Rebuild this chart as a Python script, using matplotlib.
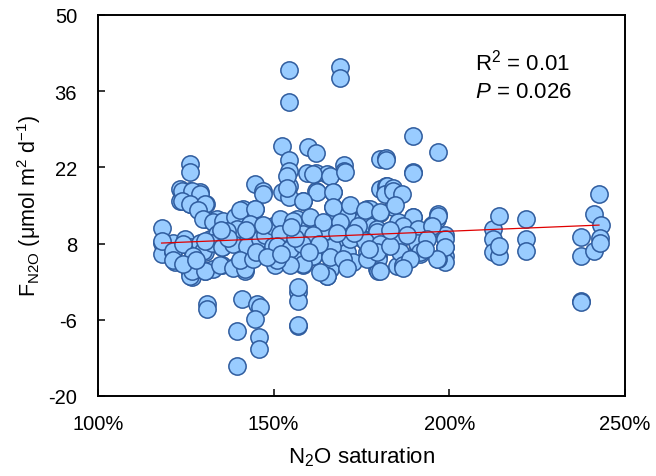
import matplotlib
matplotlib.use("Agg")
import matplotlib.pyplot as plt
import numpy as np

plt.rcParams['font.family'] = ['Liberation Sans', 'DejaVu Sans']
plt.rcParams['mathtext.fontset'] = 'custom'
plt.rcParams['mathtext.rm'] = 'Liberation Sans'
plt.rcParams['mathtext.it'] = 'Liberation Sans:italic'
plt.rcParams['axes.unicode_minus'] = False

# N2O saturation (%) and F_N2O (umol m-2 d-1)
saturation = [
    154.4, 154.4, 168.9, 168.9, 152.5, 159.9, 162.0, 154.4, 126.2, 126.2,
    170.0, 170.0, 180.3, 180.3, 144.7, 147.1, 154.4, 159.4, 162.0, 165.1,
    154.4, 123.3, 126.2, 129.0, 162.0, 167.0,
    123.3, 126.2, 130.7, 152.3, 158.4, 154.5, 167.0, 171.3, 176.5,
    144.7, 139.5, 141.4, 130.7, 133.8, 118.1, 139.5, 136.6, 144.7, 151.8,
    156.5, 159.4, 162.2, 167.0, 170.8, 175.5, 174.1, 178.4,
    118.1, 118.1, 121.4, 121.4, 121.9, 124.8, 126.2, 126.2, 126.7, 130.5,
    130.5, 131.9, 129.0, 135.2, 135.2, 132.8, 139.5, 142.3, 141.8, 141.8,
    139.5, 143.3, 147.1, 149.0, 151.8, 150.9, 153.7, 156.1, 158.4, 161.3,
    158.4, 161.3, 164.1, 167.0, 166.0, 165.1, 168.9, 170.8, 172.7, 175.5,
    176.5, 179.3, 179.8,
    130.9, 130.9, 141.1, 145.2, 146.1, 144.7, 139.7, 145.9, 145.9, 139.7,
    156.8, 156.8, 156.8, 156.8,
    189.6, 196.9, 182.0, 182.0, 189.6, 182.0, 182.0, 184.5, 184.1, 180.3,
    177.4, 189.8, 186.9, 196.9, 195.0, 179.3, 179.3, 178.4, 179.8, 179.8,
    186.9, 186.9, 190.7, 191.2, 191.7, 198.8, 198.8, 198.8, 198.8, 196.9,
    196.4, 212.5, 214.2, 212.5, 212.5, 214.2, 214.2, 221.8, 221.8, 221.8,
    237.5, 237.5, 237.5, 237.5, 241.2, 242.7, 243.1, 242.9, 241.2, 242.9,
    123.8, 126.7, 129.0, 123.8, 126.2, 130.5, 147.1, 128.6, 130.0, 132.8,
    135.7, 139.0, 140.4, 144.7, 143.3, 139.5, 136.6, 133.8, 118.1, 121.4,
    121.4, 124.3, 130.0, 132.4, 130.5, 135.2, 138.5, 142.3, 126.2, 126.7,
    130.5, 134.7, 138.5, 141.8, 140.4, 144.2, 146.1, 147.5, 149.9, 149.9,
    150.4, 127.1, 124.3,
    153.7, 161.3, 166.0, 170.3, 153.7, 162.2, 167.0, 158.4, 182.2, 181.7,
    167.0, 171.7, 176.0, 180.3, 151.8, 155.6, 160.3, 164.1, 168.9, 174.1,
    179.3, 151.8, 158.4, 161.3, 166.5, 171.7, 176.0, 180.3, 150.9, 154.6,
    158.0, 161.3, 166.0, 169.8, 176.5, 179.3, 158.4, 154.6, 150.9, 165.1,
    163.2, 180.3, 185.0, 157.0, 185.5, 185.5,
    189.8, 184.1, 184.1, 186.4, 184.5, 189.8, 196.9, 186.9, 191.2, 195.0,
    198.8, 198.8, 196.4, 186.0, 186.0, 186.9, 190.7, 191.7, 193.6, 188.8,
    186.9,
    145.0, 148.0, 152.0, 156.0, 163.0, 168.0, 173.0, 177.0, 183.0, 183.0,
    188.0, 193.0, 147.0, 142.0, 137.0, 160.0, 171.0, 135.0, 128.0, 155.0,
]
flux = [
    39.9, 34.0, 40.4, 38.5, 25.9, 25.8, 24.6, 23.4, 22.6, 21.1,
    22.4, 21.4, 23.5, 18.0, 19.0, 17.7, 21.4, 21.0, 21.0, 20.8,
    18.6, 18.0, 17.7, 17.4, 17.7, 17.4,
    15.9, 15.3, 15.3, 17.4, 15.9, 16.5, 14.7, 14.7, 14.4,
    14.4, 12.8, 14.4, 12.5, 12.5, 10.8, 10.7, 11.6, 11.6, 11.3,
    12.5, 11.6, 10.7, 12.5, 13.1, 12.5, 11.0, 11.3,
    8.2, 6.1, 8.2, 6.4, 4.6, 8.9, 7.3, 2.7, 1.8, 6.4,
    3.0, 8.9, 8.2, 7.3, 4.0, 3.3, 8.9, 8.2, 4.9, 3.0,
    4.0, 7.0, 9.2, 8.2, 8.0, 5.2, 4.6, 5.5, 4.0, 5.8,
    9.5, 8.2, 10.1, 7.3, 3.3, 2.1, 8.9, 6.4, 4.6, 8.9,
    6.4, 3.3, 5.8,
    -3.1, -4.0, -2.2, -3.1, -3.7, -5.8, -8.1, -9.2, -11.4, -14.4,
    -0.9, -2.5, -7.2, -7.0,
    27.7, 24.8, 23.7, 23.4, 21.2, 18.5, 17.9, 17.1, 14.7, 13.7,
    14.4, 12.8, 11.3, 13.4, 11.4, 10.7, 9.5, 7.6, 5.2, 3.0,
    5.8, 4.0, 10.1, 7.6, 6.1, 9.5, 7.3, 5.8, 4.6, 5.2,
    12.5, 10.7, 13.0, 8.9, 6.4, 5.8, 7.6, 12.6, 8.9, 6.7,
    9.2, 5.8, -2.5, -2.8, 13.4, 17.1, 11.4, 9.0, 6.7, 8.2,
    17.7, 17.7, 17.1, 15.9, 15.3, 15.3, 17.1, 14.1, 12.5, 11.9,
    12.2, 12.8, 14.1, 14.4, 11.6, 10.7, 10.4, 9.8, 8.5, 6.7,
    4.9, 7.9, 6.7, 8.2, 8.5, 7.3, 7.9, 7.6, 2.1, 3.0,
    3.0, 4.0, 3.6, 3.3, 4.9, 5.2, 8.8, 9.5, 11.3, 7.6,
    4.0, 5.8, 4.3,
    20.5, 20.8, 20.5, 21.1, 18.3, 17.4, 17.4, 15.9, 18.6, 17.1,
    14.7, 15.0, 14.1, 13.8, 12.5, 12.2, 12.8, 11.9, 11.9, 11.3,
    10.1, 9.8, 9.8, 9.5, 7.3, 8.9, 8.5, 7.9, 7.6, 7.0,
    7.9, 5.8, 5.5, 5.2, 5.2, 6.4, 4.3, 4.0, 4.9, 2.1,
    2.7, 3.0, 3.9, 0.0, 11.9, 9.5,
    21.0, 18.3, 17.7, 17.1, 15.0, 12.8, 13.1, 11.3, 10.7, 11.3,
    8.9, 7.3, 5.2, 8.9, 6.4, 4.0, 8.2, 6.4, 8.9, 5.2,
    3.6,
    6.5, 5.5, 6.0, 9.0, 8.0, 10.0, 10.0, 7.0, 7.5, 10.5,
    9.5, 7.0, 11.5, 10.5, 9.0, 6.5, 3.5, 10.5, 5.0, 11.0,
]

# regression line (as drawn)
fit_x = [118.1, 242.6]
fit_y = [8.1, 11.4]

x_ticks = [100, 150, 200, 250]
x_ticklabels = ["100%", "150%", "200%", "250%"]
y_ticks = [-20, -6, 8, 22, 36, 50]

fig = plt.figure(figsize=(6.56, 4.77), dpi=100)
ax = fig.add_axes([98/656, 1 - 397/477, (625 - 98)/656, (397 - 16)/477])

ax.scatter(saturation, flux, s=155, facecolor='#99CCFF', edgecolor='#2F5C9E',
           linewidths=1.1, zorder=2)
ax.plot(fit_x, fit_y, color='#E00000', lw=0.9, zorder=3)

ax.set_xlim(100, 250)
ax.set_ylim(-20, 50)
ax.set_xticks(x_ticks)
ax.set_xticklabels(x_ticklabels)
ax.set_yticks(y_ticks)
ax.tick_params(direction='in', length=5, width=1.1, labelsize=14.5,
               colors='black')
ax.tick_params(axis='x', pad=13)
ax.tick_params(axis='y', pad=15)
for s in ax.spines.values():
    s.set_linewidth(1.4)
    s.set_color('black')

ax.set_xlabel("N$_2$O saturation", fontsize=16, labelpad=8)
ax.set_ylabel("F$_{\\mathrm{N2O}}$ (\u03bcmol m$^{2}$ d$^{-1}$)", fontsize=15.5, labelpad=4)

ax.text(0.715, 0.877, "R$^2$ = 0.01", transform=ax.transAxes, fontsize=16,
        ha='left', va='center')
ax.text(0.715, 0.80, "$P$ = 0.026", transform=ax.transAxes, fontsize=16,
        ha='left', va='center')

fig.savefig("out.png", dpi=100)
